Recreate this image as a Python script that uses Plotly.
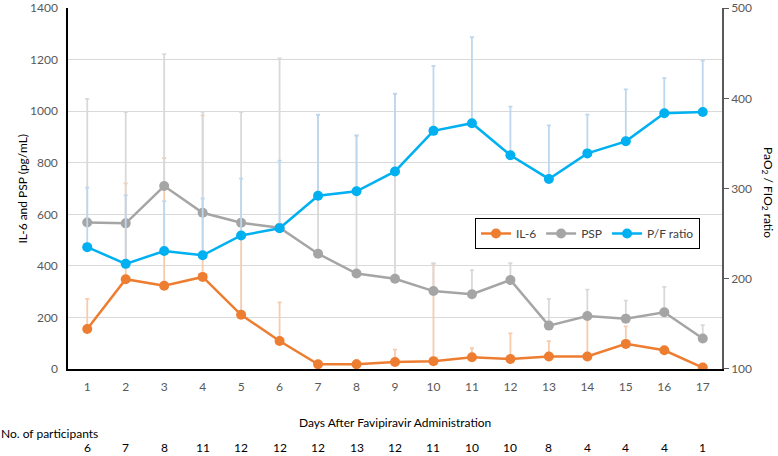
import plotly.graph_objects as go

days = list(range(1, 18))
il6 = [155, 348, 323, 357, 210, 108, 18, 18, 27, 30, 45, 38, 48, 48, 97, 72, 5]
il6_err_top = [272, 720, 818, 984, 530, 258, 30, 35, 75, 408, 80, 138, 108, 205, 165, 85, 20]
psp = [568, 565, 710, 606, 567, 548, 447, 370, 350, 302, 290, 345, 168, 205, 195, 220, 118]
psp_err_top = [1048, 997, 1222, 998, 997, 1205, 985, 905, 1068, 410, 383, 410, 272, 308, 265, 318, 170]
pf = [235, 216.5, 230.7, 226, 248, 256, 292, 297, 319, 364, 372.5, 337, 310.7, 339, 352.4, 383.5, 385]
pf_err_top = [301, 292.5, 286, 289, 311, 331, 382, 359, 405, 436, 468, 391, 370, 382, 410, 422.5, 442]
participants = [6, 7, 8, 11, 12, 12, 12, 13, 12, 11, 10, 10, 8, 4, 4, 4, 1]
left_ticks = [0, 200, 400, 600, 800, 1000, 1200, 1400]
right_ticks = [100, 200, 300, 400, 500]

FONT = "Lato, 'Open Sans', sans-serif"
ORANGE, GRAY, BLUE = "#ED7D31", "#A5A5A5", "#00B0F0"

def plus(vals, tops):
    return [t - v for v, t in zip(vals, tops)]

fig = go.Figure()
fig.add_trace(go.Scatter(
    x=days, y=il6, name="IL-6", mode="lines+markers",
    line=dict(color=ORANGE, width=2.5), marker=dict(color=ORANGE, size=10),
    error_y=dict(type="data", symmetric=False, array=plus(il6, il6_err_top),
                 arrayminus=[0]*17, color="#F8CBAD", thickness=1.8, width=2)))
fig.add_trace(go.Scatter(
    x=days, y=psp, name="PSP", mode="lines+markers",
    line=dict(color=GRAY, width=2.5), marker=dict(color=GRAY, size=10),
    error_y=dict(type="data", symmetric=False, array=plus(psp, psp_err_top),
                 arrayminus=[0]*17, color="#D9D9D9", thickness=1.8, width=2)))
fig.add_trace(go.Scatter(
    x=days, y=pf, name="P/F ratio", mode="lines+markers", yaxis="y2",
    line=dict(color=BLUE, width=2.5), marker=dict(color=BLUE, size=10),
    error_y=dict(type="data", symmetric=False, array=plus(pf, pf_err_top),
                 arrayminus=[0]*17, color="#BDD7EE", thickness=1.8, width=2)))

PW, PH = 654.0, 361.0
annotations = [
    dict(text="Days After Favipiravir Administration", xref="paper", yref="paper",
         x=(395 - 68) / PW, y=-(422 - 369) / PH, xanchor="center", yanchor="middle",
         showarrow=False, borderpad=0, font=dict(size=12, color="#000000")),
    dict(text="No. of participants", xref="paper", yref="paper",
         x=-68/PW, xanchor="left", y=-(433 - 369) / PH, yanchor="middle",
         showarrow=False, borderpad=0, font=dict(size=12, color="#000000")),
    dict(text="IL-6 and PSP (pg/mL)", xref="paper", yref="paper",
         x=-46/PW, y=0.5, textangle=-90, xanchor="center", yanchor="middle",
         showarrow=False, font=dict(size=12, color="#000000")),
    dict(text="PaO<sub>2</sub> / FIO<sub>2</sub> ratio", xref="paper", yref="paper",
         x=1 + 46/PW, y=0.49, textangle=90, xanchor="center", yanchor="middle",
         showarrow=False, font=dict(size=12, color="#000000")),
]
for d, n in zip(days, participants):
    annotations.append(dict(text=str(n), xref="x", yref="paper", x=d,
                            y=-(448 - 369) / PH, xanchor="center", yanchor="middle",
                            showarrow=False, borderpad=0,
                            font=dict(size=12, color="#000000")))

fig.update_layout(
    width=778, height=456,
    margin=dict(l=68, r=56, t=8, b=87, autoexpand=False),
    paper_bgcolor="white", plot_bgcolor="white",
    font=dict(family=FONT, size=12, color="#595959"),
    showlegend=True,
    legend=dict(orientation="h", x=(700 - 68) / PW, y=(369 - 218) / PH,
                xanchor="right", yanchor="top",
                bordercolor="#000000", borderwidth=1, bgcolor="white",
                font=dict(size=12, color="#404040")),
    xaxis=dict(range=[0.5, 17.5], tickvals=days, ticktext=[str(d) for d in days],
               showgrid=False, zeroline=False, showline=True, linecolor="#000000",
               linewidth=1.5, ticks="", automargin=False, ticklabelstandoff=6,
               tickfont=dict(size=12, color="#595959")),
    yaxis=dict(range=[-0.5, 1401], tickmode="array", tickvals=left_ticks,
               showgrid=True, gridcolor="#D9D9D9", ticklabeloverflow="allow",
               gridwidth=1, zeroline=False, showline=True, linecolor="#000000",
               linewidth=1.5, ticks="", automargin=False, ticklabelstandoff=6,
               tickfont=dict(size=12, color="#595959")),
    yaxis2=dict(range=[99.85, 500.3], tickmode="array", tickvals=right_ticks,
                overlaying="y", side="right", ticklabeloverflow="allow",
                showgrid=False, zeroline=False, showline=True, linecolor="#595959",
                linewidth=1.5, ticks="outside", ticklen=5, tickcolor="#595959",
                automargin=False, tickfont=dict(size=12, color="#595959")),
    annotations=annotations,
)

fig.write_html("out.html", config={"displayModeBar": False},
               post_script="document.body.style.margin='0';")
